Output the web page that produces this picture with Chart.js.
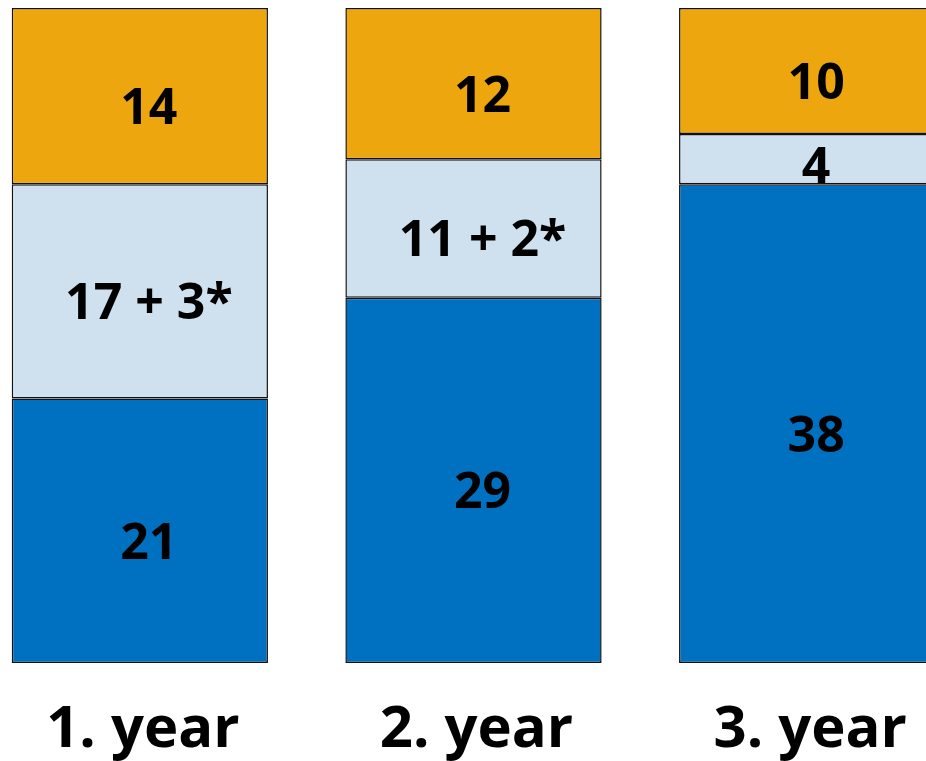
<!DOCTYPE html>
<html>
<head>
<meta charset="utf-8">
<script src="https://cdn.jsdelivr.net/npm/chart.js@4"></script>
<style>
  html, body { margin: 0; padding: 0; background: #fff; overflow: hidden; }
  #wrap { position: absolute; left: -27px; top: 0; width: 1001px; height: 761px; }
</style>
</head>
<body>
<div id="wrap"><canvas id="yearChart"></canvas></div>
<script>
// Values per year, bottom segment first
const categories = ['1. year', '2. year', '3. year'];
const bottomValues = [21, 29, 38];
const middleValues = [17, 11, 4];
const topValues = [14, 12, 10];
const middleLabels = ['17 + 3*', '11 + 2*', '4'];

// draws the numbers in the bars and the year names below
const labelPlugin = {
  id: 'segmentLabels',
  afterDatasetsDraw(chart) {
    const ctx = chart.ctx;
    ctx.save();
    ctx.fillStyle = '#000';
    ctx.textAlign = 'center';
    ctx.textBaseline = 'alphabetic';
    ctx.font = 'bold 50px "Open Sans"';
    chart.data.datasets.forEach((ds, i) => {
      const meta = chart.getDatasetMeta(i);
      meta.data.forEach((bar, j) => {
        const mid = (bar.y + bar.base) / 2;
        const h = Math.abs(bar.base - bar.y);
        const drop = Math.min(10, (h - 38) / 2);
        ctx.fillText(ds.valueLabels[j], bar.x + 9, mid + 18 + drop);
      });
    });

    const xScale = chart.scales.x;
    ctx.font = 'bold 58px "Open Sans"';
    categories.forEach((name, j) => {
      ctx.fillText(name, xScale.getPixelForValue(j) + 3, chart.chartArea.bottom + 84);
    });
    ctx.restore();
  }
};

function buildChart() {
  const ctx = document.getElementById('yearChart').getContext('2d');
  new Chart(ctx, {
    type: 'bar',
    data: {
      labels: categories,
      datasets: [
        {
          label: 'bottom',
          data: bottomValues,
          valueLabels: bottomValues.map(String),
          backgroundColor: '#0070C0',
        },
        {
          label: 'middle',
          data: middleValues,
          valueLabels: middleLabels,
          backgroundColor: '#CFE0EF',
        },
        {
          label: 'top',
          data: topValues,
          valueLabels: topValues.map(String),
          backgroundColor: '#EDA60D',
        },
      ].map((ds) => Object.assign(ds, {
        borderColor: '#111111',
        borderWidth: 1.5,
        borderSkipped: false,
        categoryPercentage: 1,
        barPercentage: 0.768,
      })),
    },
    options: {
      responsive: true,
      maintainAspectRatio: false,
      animation: false,
      layout: { padding: { top: 8, bottom: 98, left: 0, right: 0 } },
      plugins: {
        legend: { display: false },
        tooltip: { enabled: false },
      },
      scales: {
        x: { stacked: true, display: false },
        y: { stacked: true, display: false, min: 0, max: 52 },
      },
    },
    plugins: [labelPlugin],
  });
}

document.fonts.load('bold 50px "Open Sans"').then(buildChart, buildChart);
</script>
</body>
</html>
